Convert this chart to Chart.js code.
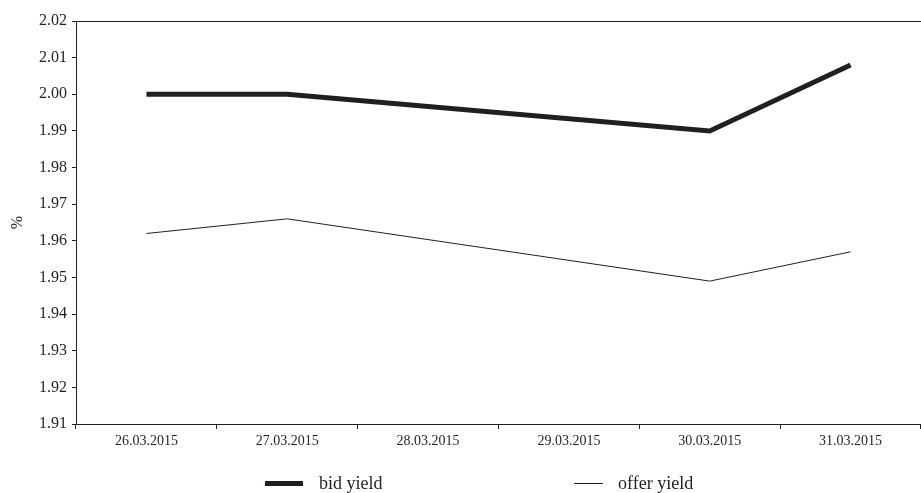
<!DOCTYPE html>
<html>
<head>
<meta charset="utf-8">
<script src="https://cdn.jsdelivr.net/npm/chart.js@4/dist/chart.umd.min.js"></script>
<style>
    body { margin: 0; background: #fff; }
    #wrap { position: relative; width: 921px; height: 493px; }
    .legend { position: absolute; top: 470px; font-family: 'Liberation Serif', serif; font-size: 18px; color: #231f20; line-height: 26px; }
    .swatch { position: absolute; background: #231f20; }
</style>
</head>
<body>
<div id="wrap">
    <canvas id="yieldChart"></canvas>
    <div class="swatch" style="left:265px; top:481px; width:38px; height:5px;"></div>
    <div class="legend" style="left:319px;">bid yield</div>
    <div class="swatch" style="left:574px; top:483px; width:29px; height:1px;"></div>
    <div class="legend" style="left:618px;">offer yield</div>
</div>
<script>
const dates = ['26.03.2015', '27.03.2015', '28.03.2015', '29.03.2015', '30.03.2015', '31.03.2015'];

// no quotes on 28.03 and 29.03 (weekend)
const bidYield = [2.000, 2.000, null, null, 1.990, 2.008];
const offerYield = [1.962, 1.966, null, null, 1.949, 1.957];

const yMin = 1.91;
const yMax = 2.02;
const yStep = 0.01;

document.addEventListener('DOMContentLoaded', () => {
    const ink = '#231f20';
    const ctx = document.getElementById('yieldChart').getContext('2d');

    new Chart(ctx, {
        type: 'line',
        data: {
            labels: dates,
            datasets: [
                {
                    label: 'bid yield',
                    data: bidYield,
                    borderColor: ink,
                    borderWidth: 5,
                    pointRadius: 0,
                    tension: 0,
                    spanGaps: true,
                    fill: false
                },
                {
                    label: 'offer yield',
                    data: offerYield,
                    borderColor: ink,
                    borderWidth: 1,
                    pointRadius: 0,
                    tension: 0,
                    spanGaps: true,
                    fill: false
                }
            ]
        },
        options: {
            responsive: true,
            maintainAspectRatio: false,
            animation: false,
            layout: { padding: { top: 21, left: 0, right: 0, bottom: 0 } },
            plugins: {
                legend: { display: false },
                tooltip: { enabled: false }
            },
            scales: {
                x: {
                    offset: true,
                    grid: {
                        offset: true,
                        drawOnChartArea: false,
                        drawTicks: true,
                        tickLength: 5,
                        color: ink
                    },
                    border: { display: true, color: ink, width: 1 },
                    ticks: {
                        color: ink,
                        padding: 4,
                        maxRotation: 0,
                        font: { family: "'Liberation Serif', serif", size: 14 }
                    },
                    afterFit: (scale) => { scale.height = 69; }
                },
                xTop: {
                    type: 'category',
                    position: 'top',
                    labels: dates,
                    grid: { display: false },
                    ticks: { display: false },
                    border: { display: true, color: ink, width: 1 },
                    afterFit: (scale) => { scale.height = 0; }
                },
                y: {
                    min: yMin,
                    max: yMax,
                    grid: {
                        drawOnChartArea: false,
                        drawTicks: true,
                        tickLength: 4,
                        color: ink
                    },
                    border: { display: true, color: ink, width: 1 },
                    ticks: {
                        stepSize: yStep,
                        color: ink,
                        padding: 5,
                        font: { family: "'Liberation Serif', serif", size: 16 },
                        callback: (value) => value.toFixed(2)
                    },
                    title: {
                        display: true,
                        text: '%',
                        color: ink,
                        padding: { top: 8, bottom: 0 },
                        font: { family: "'Liberation Serif', serif", size: 16 }
                    },
                    afterFit: (scale) => { scale.width = 76; }
                }
            }
        }
    });
});
</script>
</body>
</html>
